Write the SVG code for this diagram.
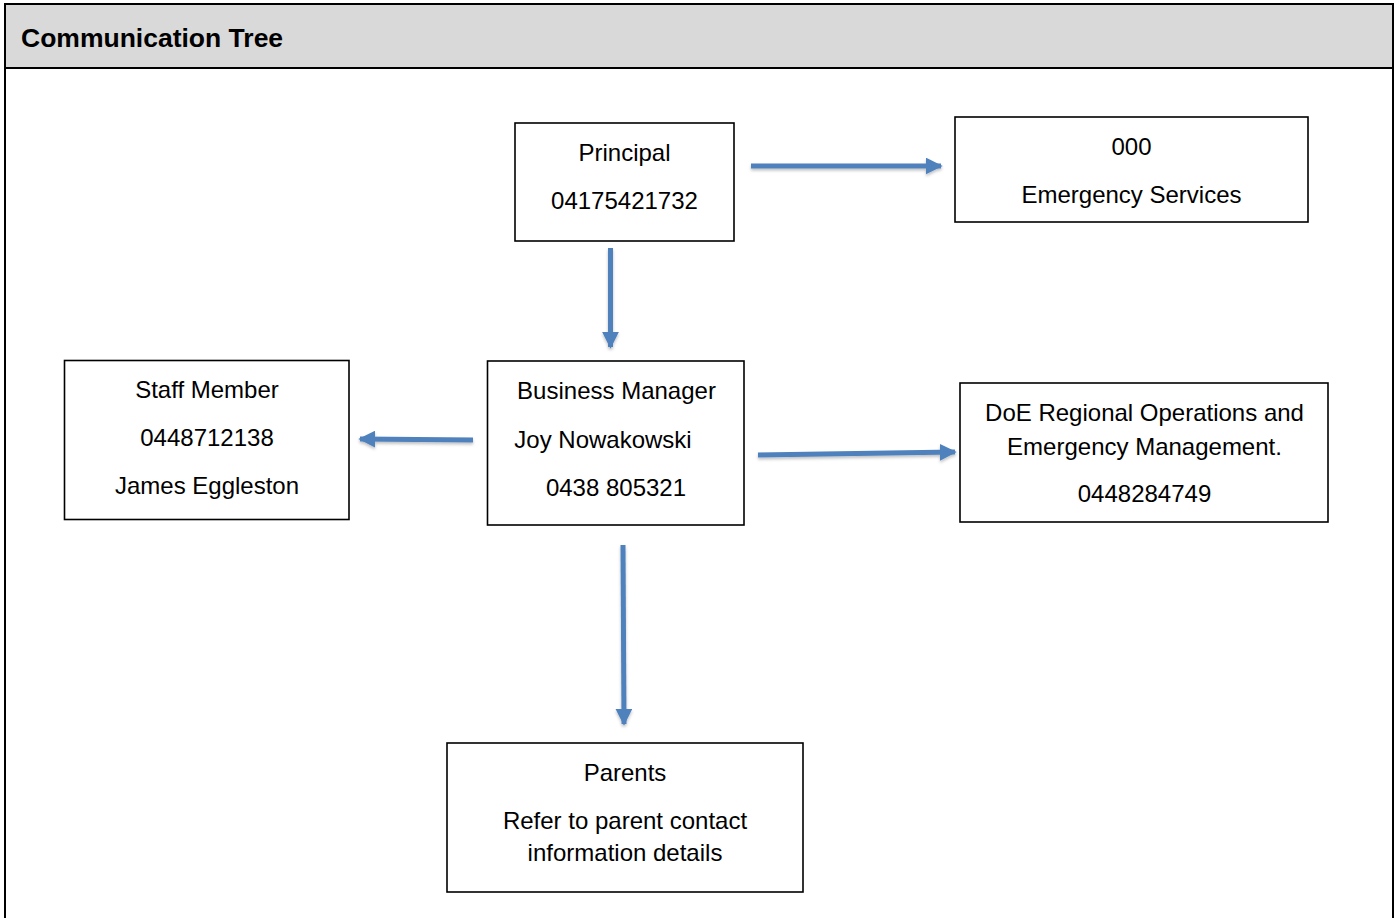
<svg xmlns="http://www.w3.org/2000/svg" width="1400" height="918" viewBox="0 0 1400 918">
<style>
.box{fill:#fff;stroke:#000;stroke-width:1.6}
.t{font-family:"Liberation Sans",Arial,sans-serif;font-size:24px;fill:#000;text-anchor:middle}
.title{font-family:"Liberation Sans",Arial,sans-serif;font-size:26.5px;font-weight:bold;fill:#000}
.arr{stroke:#4f81bd;stroke-width:5;fill:none;marker-end:url(#ah)}
</style>
<defs>
<marker id="ah" viewBox="0 0 10 10" refX="9" refY="5" markerUnits="userSpaceOnUse" markerWidth="17" markerHeight="17" orient="auto">
<path d="M0,0 L10,5 L0,10 Z" fill="#4f81bd"/>
</marker>
<filter id="shadow" x="-10%" y="-10%" width="120%" height="120%">
<feDropShadow dx="0" dy="2" stdDeviation="1.5" flood-color="#000" flood-opacity="0.25"/>
</filter>
</defs>
<rect x="0" y="0" width="1400" height="918" fill="#fff"/>
<g id="frame">
<rect x="5" y="4" width="1388" height="64" fill="#d9d9d9"/>
<path d="M5,930 L5,4 L1393,4 L1393,930" fill="none" stroke="#000" stroke-width="2"/>
<line x1="5" y1="68" x2="1393" y2="68" stroke="#000" stroke-width="2"/>
<text class="title" x="21" y="46.5">Communication Tree</text>
</g>
<g id="connectors" filter="url(#shadow)">
<line class="arr" x1="751" y1="166" x2="941" y2="166"/>
<line class="arr" x1="610.5" y1="248" x2="610.5" y2="347"/>
<line class="arr" x1="473" y1="440" x2="360" y2="439"/>
<line class="arr" x1="758" y1="455" x2="955" y2="452"/>
<line class="arr" x1="623" y1="545" x2="624" y2="724"/>
</g>
<g id="principal">
<rect class="box" x="515" y="123" width="219" height="118"/>
<text class="t" x="624.5" y="161">Principal</text>
<text class="t" x="624.5" y="209">04175421732</text>
</g>
<g id="emergency">
<rect class="box" x="955" y="117" width="353" height="105"/>
<text class="t" x="1131.5" y="155">000</text>
<text class="t" x="1131.5" y="203">Emergency Services</text>
</g>
<g id="staff">
<rect class="box" x="64.5" y="360.5" width="284.5" height="159"/>
<text class="t" x="207" y="398">Staff Member</text>
<text class="t" x="207" y="446">0448712138</text>
<text class="t" x="207" y="494">James Eggleston</text>
</g>
<g id="business-manager">
<rect class="box" x="487.5" y="361" width="256.5" height="164"/>
<text class="t" x="616.5" y="399">Business Manager</text>
<text class="t" x="603" y="448">Joy Nowakowski</text>
<text class="t" x="616" y="496">0438 805321</text>
</g>
<g id="doe">
<rect class="box" x="960" y="383" width="368" height="139"/>
<text class="t" x="1144.5" y="421">DoE Regional Operations and</text>
<text class="t" x="1144.5" y="455">Emergency Management.</text>
<text class="t" x="1144.5" y="502">0448284749</text>
</g>
<g id="parents">
<rect class="box" x="447" y="743" width="356" height="149"/>
<text class="t" x="625" y="781">Parents</text>
<text class="t" x="625" y="829">Refer to parent contact</text>
<text class="t" x="625" y="861">information details</text>
</g>
</svg>
